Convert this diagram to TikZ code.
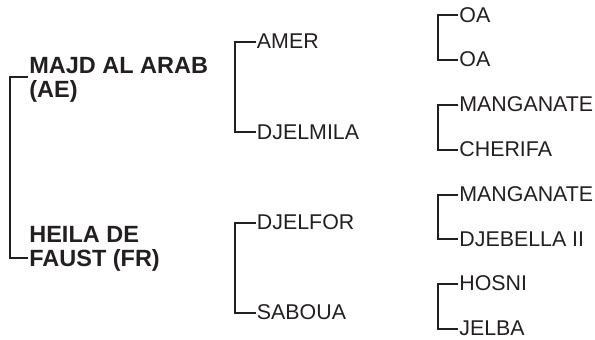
\documentclass[tikz,border=0pt]{standalone}
\usepackage{fontspec}
\setmainfont{Liberation Sans}
\definecolor{color1}{RGB}{35,31,32}
\tikzset{
  horsenode/.style = {inner sep=0pt, anchor=west, text=color1},
  sire/.style = {horsenode, align=left, anchor=north west,
    font=\bfseries\fontsize{16.7}{17.1}\selectfont},
  ancestor/.style = {horsenode, font=\fontsize{15.2}{17}\selectfont,
    text height=10.9pt, text depth=1.5pt},
}

\begin{document}
\begin{tikzpicture}[-,draw=color1,line width=1.4pt]
\useasboundingbox (0,0) rectangle (14.875,8.475);
\node [sire] (majd) at (0.71,7.0575) {MAJD AL ARAB\\(AE)};
\node [sire] (heila) at (0.71,2.85) {HEILA DE\\FAUST (FR)};

\node [ancestor] (amer) at (6.4,7.425) {AMER};
\node [ancestor] (djelmila) at (6.4,5.165) {DJELMILA};
\node [ancestor] (djelfor) at (6.4,2.905) {DJELFOR};
\node [ancestor] (saboua) at (6.4,0.645) {SABOUA};

\node [ancestor] (oa1) at (11.46,8.09) {OA};
\node [ancestor] (oa2) at (11.46,6.97) {OA};
\node [ancestor] (manganate1) at (11.46,5.85) {MANGANATE};
\node [ancestor] (cherifa) at (11.46,4.73) {CHERIFA};
\node [ancestor] (manganate2) at (11.46,3.61) {MANGANATE};
\node [ancestor] (djebella) at (11.46,2.49) {DJEBELLA II};
\node [ancestor] (hosni) at (11.46,1.37) {HOSNI};
\node [ancestor] (jelba) at (11.46,0.26) {JELBA};

% brackets
\draw ([yshift=-0.5cm]majd.north west) -- ++(-0.46,0) |- ([yshift=-0.8175cm]heila.north west);
\draw (amer.west) -- ++(-0.525,0) |- (djelmila.west);
\draw (djelfor.west) -- ++(-0.525,0) |- (saboua.west);
\draw (oa1.west) -- ++(-0.5,0) |- (oa2.west);
\draw (manganate1.west) -- ++(-0.5,0) |- (cherifa.west);
\draw (manganate2.west) -- ++(-0.5,0) |- (djebella.west);
\draw (hosni.west) -- ++(-0.5,0) |- (jelba.west);
\end{tikzpicture}
\end{document}
